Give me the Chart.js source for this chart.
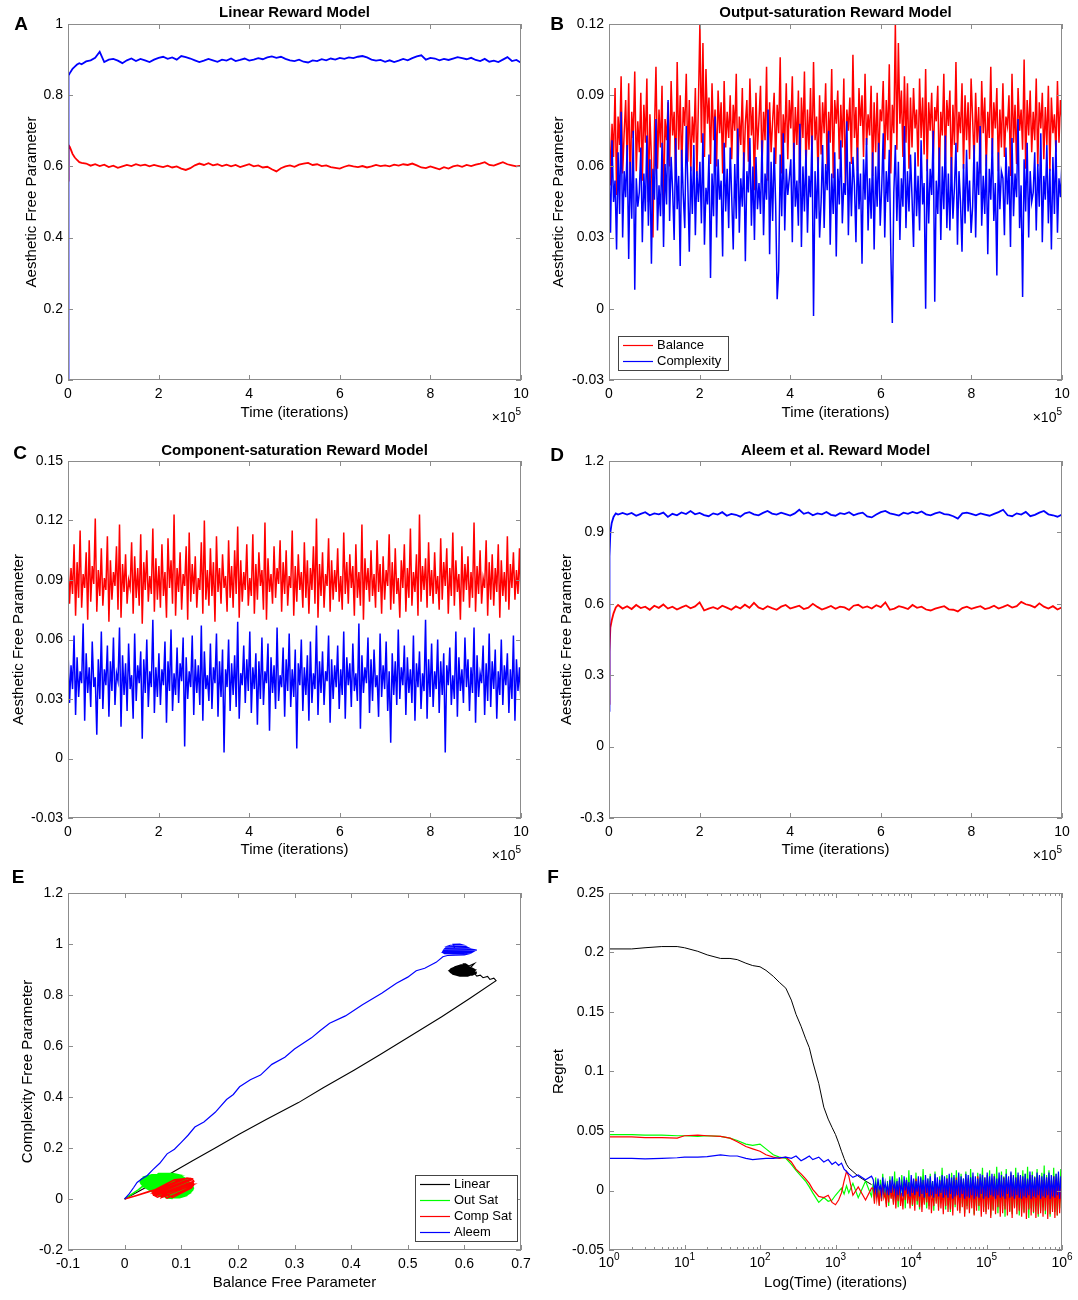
<!DOCTYPE html>
<html>
<head>
<meta charset="utf-8">
<script src="https://cdn.jsdelivr.net/npm/chart.js@4.4.1/dist/chart.umd.min.js"></script>
<style>
  html, body { margin: 0; padding: 0; background: #fff; }
  #figure { position: relative; width: 1078px; height: 1300px; overflow: hidden; }
  #figure canvas { position: absolute; }
</style>
</head>
<body>
<div id="figure">
  <canvas id="panelA" width="540" height="430" style="left:0px;top:0px"></canvas>
  <canvas id="panelB" width="538" height="430" style="left:540px;top:0px"></canvas>
  <canvas id="panelC" width="540" height="440" style="left:0px;top:430px"></canvas>
  <canvas id="panelD" width="538" height="440" style="left:540px;top:430px"></canvas>
  <canvas id="panelE" width="540" height="440" style="left:0px;top:860px"></canvas>
  <canvas id="panelF" width="538" height="440" style="left:540px;top:860px"></canvas>
</div>
<script>
const FONT = '"Liberation Sans", Arial, Helvetica, sans-serif'

Chart.defaults.font.family = FONT
Chart.defaults.font.size = 14
Chart.defaults.color = "#000"

const RED = "#ff0000"
const BLUE = "#0000ff"
const GREEN = "#00ff00"
const BLACK = "#000000"
const AXIS_GRAY = "#8c8c8c"
const TICK_LEN = 5

// ---- tick values / labels ----
const TIME_TICKS = [0, 2, 4, 6, 8, 10]
const A_YTICKS = [0, 0.2, 0.4, 0.6, 0.8, 1]
const B_YTICKS = [-0.03, 0, 0.03, 0.06, 0.09, 0.12]
const C_YTICKS = [-0.03, 0, 0.03, 0.06, 0.09, 0.12, 0.15]
const D_YTICKS = [-0.3, 0, 0.3, 0.6, 0.9, 1.2]
const E_XTICKS = [-0.1, 0, 0.1, 0.2, 0.3, 0.4, 0.5, 0.6, 0.7]
const E_YTICKS = [-0.2, 0, 0.2, 0.4, 0.6, 0.8, 1, 1.2]
const F_XTICKS = [1, 10, 100, 1000, 10000, 100000, 1000000]
const F_XEXPONENTS = ["0", "1", "2", "3", "4", "5", "6"]
const F_YTICKS = [-0.05, 0, 0.05, 0.1, 0.15, 0.2, 0.25]

// ---- A: Linear reward model (x in units of 1e5 iterations) ----
const A_T_EARLY = [0, 0.003, 0.01, 0.02, 0.04, 0.07, 0.1, 0.15, 0.2, 0.25, 0.3]
const A_BLUE_EARLY = [0.0, 0.70, 0.84, 0.855, 0.862, 0.868, 0.874, 0.88, 0.886, 0.89, 0.887]
const A_RED_EARLY = [0.56, 0.62, 0.65, 0.66, 0.655, 0.645, 0.635, 0.625, 0.618, 0.612, 0.61]
// sampled every 0.1 from 0.4 to 10
const A_BLUE = [
  0.895, 0.898, 0.905, 0.922, 0.893, 0.900, 0.902,
  0.897, 0.890, 0.898, 0.903, 0.896, 0.902, 0.898, 0.893, 0.900, 0.905,
  0.908, 0.902, 0.906, 0.900, 0.910, 0.907, 0.903, 0.898, 0.893, 0.897,
  0.902, 0.898, 0.894, 0.900, 0.897, 0.903, 0.896, 0.899, 0.903, 0.897,
  0.900, 0.904, 0.901, 0.906, 0.909, 0.905, 0.908, 0.902, 0.898, 0.896,
  0.900, 0.894, 0.892, 0.898, 0.896, 0.901, 0.898, 0.903, 0.900, 0.905,
  0.902, 0.906, 0.904, 0.908, 0.910, 0.906, 0.900, 0.897, 0.899, 0.894,
  0.898, 0.893, 0.897, 0.902, 0.898, 0.904, 0.909, 0.912, 0.900, 0.905,
  0.903, 0.898, 0.902, 0.899, 0.903, 0.907, 0.904, 0.901, 0.905, 0.899,
  0.896, 0.902, 0.894, 0.897, 0.893, 0.900, 0.907, 0.896, 0.899, 0.891,
]
const A_RED = [
  0.608, 0.602, 0.606, 0.601, 0.605, 0.598, 0.602,
  0.596, 0.600, 0.604, 0.601, 0.606, 0.602, 0.605, 0.600, 0.604, 0.601,
  0.598, 0.602, 0.597, 0.600, 0.594, 0.590, 0.595, 0.603, 0.608, 0.604,
  0.609, 0.603, 0.606, 0.601, 0.605, 0.600, 0.604, 0.598, 0.602, 0.606,
  0.600, 0.603, 0.597, 0.599, 0.592, 0.586, 0.595, 0.600, 0.603, 0.599,
  0.605, 0.608, 0.610, 0.604, 0.606, 0.601, 0.603, 0.598, 0.596, 0.594,
  0.599, 0.603, 0.600, 0.598, 0.601, 0.597, 0.600, 0.604, 0.601, 0.603,
  0.600, 0.605, 0.602, 0.606, 0.604, 0.608, 0.603, 0.597, 0.595, 0.600,
  0.596, 0.592, 0.598, 0.594, 0.600, 0.603, 0.599, 0.604, 0.601, 0.605,
  0.608, 0.612, 0.604, 0.602, 0.607, 0.612, 0.606, 0.603, 0.600, 0.602,
]

// ---- B: Output-saturation reward model (300 samples over 0..10) ----
const B_BALANCE = [
  0.085, 0.052, 0.078, 0.064, 0.093, 0.048, 0.081, 0.069, 0.098, 0.057, 0.074, 0.088, 0.061, 0.095, 0.050, 0.083, 0.072, 0.100, 0.058, 0.079,
  0.066, 0.091, 0.054, 0.086, 0.070, 0.097, 0.045, 0.082, 0.063, 0.030, 0.075, 0.102, 0.059, 0.084, 0.068, 0.094, 0.040, 0.080, 0.071, 0.087,
  0.060, 0.096, 0.073, 0.083, 0.055, 0.104, 0.067, 0.090, 0.058, 0.085, 0.077, 0.099, 0.062, 0.088, 0.058, 0.081, 0.070, 0.093, 0.056, 0.086,
  0.120, 0.070, 0.112, 0.064, 0.101, 0.078, 0.089, 0.061, 0.095, 0.071, 0.084, 0.060, 0.092, 0.074, 0.087, 0.057, 0.096, 0.068, 0.083, 0.072,
  0.090, 0.063, 0.086, 0.075, 0.099, 0.055, 0.081, 0.069, 0.093, 0.058, 0.078, 0.088, 0.062, 0.097, 0.073, 0.085, 0.050, 0.091, 0.067, 0.080,
  0.094, 0.059, 0.083, 0.071, 0.102, 0.054, 0.087, 0.066, 0.079, 0.091, 0.061, 0.086, 0.074, 0.106, 0.057, 0.082, 0.070, 0.095, 0.063, 0.088,
  0.076, 0.098, 0.060, 0.085, 0.069, 0.092, 0.053, 0.089, 0.072, 0.100, 0.058, 0.084, 0.067, 0.093, 0.062, 0.104, 0.071, 0.081, 0.056, 0.090,
  0.065, 0.087, 0.074, 0.095, 0.059, 0.083, 0.070, 0.101, 0.055, 0.088, 0.078, 0.092, 0.063, 0.086, 0.068, 0.097, 0.052, 0.084, 0.075, 0.089,
  0.061, 0.107, 0.072, 0.085, 0.058, 0.093, 0.077, 0.090, 0.064, 0.099, 0.069, 0.082, 0.073, 0.094, 0.056, 0.087, 0.066, 0.091, 0.060, 0.084,
  0.079, 0.096, 0.063, 0.088, 0.071, 0.103, 0.057, 0.086, 0.074, 0.120, 0.067, 0.112, 0.078, 0.092, 0.064, 0.098, 0.070, 0.095, 0.059, 0.089,
  0.068, 0.093, 0.076, 0.084, 0.060, 0.097, 0.072, 0.089, 0.065, 0.101, 0.058, 0.087, 0.075, 0.091, 0.062, 0.085, 0.079, 0.094, 0.055, 0.083,
  0.073, 0.099, 0.061, 0.088, 0.077, 0.092, 0.054, 0.086, 0.069, 0.104, 0.066, 0.083, 0.074, 0.095, 0.059, 0.090, 0.071, 0.087, 0.063, 0.097,
  0.080, 0.062, 0.091, 0.070, 0.085, 0.057, 0.096, 0.074, 0.089, 0.060, 0.083, 0.072, 0.102, 0.065, 0.087, 0.076, 0.093, 0.058, 0.084, 0.068,
  0.095, 0.064, 0.081, 0.077, 0.090, 0.056, 0.099, 0.070, 0.086, 0.061, 0.093, 0.075, 0.084, 0.067, 0.105, 0.059, 0.088, 0.073, 0.092, 0.066,
  0.083, 0.071, 0.097, 0.060, 0.087, 0.076, 0.091, 0.063, 0.085, 0.069, 0.094, 0.058, 0.089, 0.074, 0.082, 0.066, 0.096, 0.070, 0.088, 0.079,
]
const B_COMPLEXITY = [
  0.060, 0.032, 0.071, 0.045, 0.054, 0.025, 0.066, 0.040, 0.083, 0.030, 0.058, 0.047, 0.069, 0.021, 0.062, 0.038, 0.075, 0.008, 0.055, 0.043,
  0.049, 0.068, 0.028, 0.057, 0.041, 0.073, 0.035, 0.063, 0.019, 0.059, 0.046, 0.080, 0.033, 0.052, 0.039, 0.070, 0.026, 0.061, 0.044, 0.088,
  0.037, 0.064, 0.050, 0.029, 0.072, 0.042, 0.056, 0.018, 0.067, 0.048, 0.034, 0.077, 0.053, 0.024, 0.060, 0.040, 0.069, 0.031, 0.058, 0.045,
  0.062, 0.036, 0.074, 0.027, 0.051, 0.044, 0.065, 0.013, 0.057, 0.039, 0.081, 0.030, 0.063, 0.046, 0.054, 0.022, 0.070, 0.041, 0.059, 0.034,
  0.068, 0.047, 0.025, 0.061, 0.038, 0.076, 0.032, 0.055, 0.043, 0.066, 0.020, 0.058, 0.049, 0.072, 0.035, 0.060, 0.029, 0.064, 0.042, 0.053,
  0.040, 0.071, 0.031, 0.057, 0.046, 0.084, 0.023, 0.062, 0.037, 0.068, 0.044, 0.004, 0.016, 0.065, 0.039, 0.074, 0.033, 0.059, 0.048, 0.055,
  0.063, 0.028, 0.070, 0.043, 0.054, 0.035, 0.078, 0.026, 0.060, 0.041, 0.067, 0.032, 0.056, 0.047, 0.073, -0.003, 0.058, 0.038, 0.064, 0.030,
  0.045, 0.069, 0.034, 0.061, 0.050, 0.075, 0.027, 0.057, 0.040, 0.066, 0.022, 0.059, 0.044, 0.071, 0.036, 0.053, 0.048, 0.079, 0.031, 0.062,
  0.039, 0.064, 0.052, 0.028, 0.068, 0.042, 0.057, 0.019, 0.063, 0.046, 0.072, 0.033, 0.055, 0.038, 0.066, 0.025, 0.060, 0.043, 0.070, 0.035,
  0.051, 0.074, 0.030, 0.058, 0.045, 0.067, 0.024, -0.006, 0.049, 0.069, 0.037, 0.062, 0.029, 0.055, 0.043, 0.077, 0.034, 0.058, 0.041, 0.065,
  0.047, 0.026, 0.066, 0.039, 0.056, 0.033, 0.071, 0.044, 0.053, 0.000, 0.063, 0.036, 0.059, 0.048, 0.075, 0.003, 0.054, 0.040, 0.068, 0.029,
  0.060, 0.042, 0.073, 0.034, 0.057, 0.033, 0.064, 0.038, 0.051, 0.070, 0.027, 0.058, 0.045, 0.024, 0.061, 0.036, 0.067, 0.041, 0.054, 0.032,
  0.043, 0.069, 0.030, 0.062, 0.048, 0.077, 0.035, 0.056, 0.040, 0.065, 0.023, 0.059, 0.046, 0.072, 0.037, 0.053, 0.014, 0.066, 0.042, 0.058,
  0.055, 0.031, 0.068, 0.044, 0.060, 0.026, 0.072, 0.039, 0.057, 0.047, 0.080, 0.034, 0.052, 0.005, 0.063, 0.041, 0.070, 0.030, 0.058, 0.045,
  0.049, 0.066, 0.033, 0.061, 0.043, 0.074, 0.028, 0.056, 0.046, 0.069, 0.036, 0.059, 0.025, 0.064, 0.040, 0.071, 0.032, 0.055, 0.047, 0.062,
]

// ---- C: Component-saturation reward model (300 samples over 0..10) ----
const C_BALANCE = [
  0.101, 0.078, 0.096, 0.083, 0.108, 0.072, 0.099, 0.081, 0.115, 0.076, 0.093, 0.086, 0.104, 0.070, 0.110, 0.079, 0.097, 0.088, 0.121, 0.074,
  0.095, 0.082, 0.106, 0.077, 0.091, 0.085, 0.112, 0.069, 0.100, 0.080, 0.094, 0.087, 0.107, 0.075, 0.118, 0.071, 0.098, 0.084, 0.103, 0.078,
  0.090, 0.086, 0.109, 0.073, 0.102, 0.081, 0.096, 0.077, 0.113, 0.068, 0.099, 0.085, 0.105, 0.079, 0.092, 0.083, 0.116, 0.074, 0.101, 0.080,
  0.097, 0.076, 0.108, 0.082, 0.094, 0.071, 0.111, 0.086, 0.100, 0.078, 0.123, 0.072, 0.096, 0.084, 0.104, 0.075, 0.093, 0.087, 0.107, 0.070,
  0.114, 0.079, 0.098, 0.083, 0.102, 0.076, 0.091, 0.085, 0.109, 0.073, 0.120, 0.080, 0.095, 0.077, 0.106, 0.082, 0.099, 0.069, 0.112, 0.084,
  0.096, 0.078, 0.103, 0.086, 0.092, 0.074, 0.110, 0.081, 0.097, 0.076, 0.105, 0.083, 0.117, 0.071, 0.100, 0.079, 0.094, 0.085, 0.108, 0.077,
  0.091, 0.082, 0.113, 0.073, 0.098, 0.080, 0.104, 0.087, 0.095, 0.075, 0.119, 0.070, 0.101, 0.084, 0.093, 0.078, 0.107, 0.081, 0.096, 0.088,
  0.110, 0.074, 0.099, 0.083, 0.105, 0.077, 0.092, 0.086, 0.115, 0.072, 0.097, 0.079, 0.103, 0.085, 0.094, 0.076, 0.109, 0.081, 0.100, 0.073,
  0.096, 0.085, 0.107, 0.078, 0.121, 0.071, 0.098, 0.082, 0.104, 0.076, 0.093, 0.087, 0.111, 0.074, 0.100, 0.080, 0.095, 0.084, 0.106, 0.079,
  0.092, 0.075, 0.114, 0.083, 0.099, 0.078, 0.103, 0.086, 0.097, 0.072, 0.108, 0.081, 0.094, 0.077, 0.118, 0.070, 0.101, 0.085, 0.096, 0.079,
  0.105, 0.082, 0.093, 0.076, 0.110, 0.084, 0.098, 0.073, 0.102, 0.080, 0.095, 0.087, 0.113, 0.075, 0.099, 0.078, 0.106, 0.083, 0.091, 0.071,
  0.100, 0.086, 0.108, 0.074, 0.096, 0.081, 0.116, 0.077, 0.094, 0.084, 0.103, 0.072, 0.123, 0.079, 0.097, 0.085, 0.101, 0.076, 0.109, 0.082,
  0.095, 0.078, 0.104, 0.083, 0.092, 0.075, 0.111, 0.080, 0.099, 0.087, 0.106, 0.073, 0.096, 0.082, 0.114, 0.077, 0.100, 0.084, 0.093, 0.070,
  0.107, 0.079, 0.098, 0.085, 0.102, 0.076, 0.094, 0.081, 0.119, 0.074, 0.097, 0.083, 0.105, 0.078, 0.091, 0.086, 0.110, 0.072, 0.099, 0.080,
  0.103, 0.077, 0.096, 0.084, 0.108, 0.071, 0.100, 0.082, 0.094, 0.079, 0.112, 0.075, 0.098, 0.086, 0.104, 0.080, 0.095, 0.083, 0.106, 0.078,
]
const C_COMPLEXITY = [
  0.055, 0.028, 0.047, 0.035, 0.062, 0.022, 0.051, 0.031, 0.044, 0.038, 0.068, 0.019, 0.053, 0.033, 0.046, 0.026, 0.059, 0.036, 0.041, 0.012,
  0.050, 0.030, 0.064, 0.025, 0.045, 0.037, 0.057, 0.021, 0.049, 0.034, 0.061, 0.027, 0.043, 0.039, 0.066, 0.016, 0.052, 0.032, 0.048, 0.024,
  0.058, 0.035, 0.042, 0.020, 0.063, 0.029, 0.047, 0.038, 0.054, 0.010, 0.050, 0.033, 0.060, 0.026, 0.044, 0.036, 0.070, 0.023, 0.046, 0.031,
  0.053, 0.027, 0.045, 0.037, 0.059, 0.018, 0.049, 0.034, 0.065, 0.024, 0.043, 0.032, 0.056, 0.028, 0.048, 0.039, 0.061, 0.006, 0.051, 0.030,
  0.044, 0.036, 0.062, 0.022, 0.050, 0.033, 0.047, 0.027, 0.067, 0.019, 0.054, 0.035, 0.042, 0.029, 0.058, 0.025, 0.046, 0.038, 0.063, 0.021,
  0.049, 0.031, 0.055, 0.003, 0.045, 0.036, 0.060, 0.024, 0.048, 0.032, 0.052, 0.026, 0.069, 0.020, 0.043, 0.037, 0.057, 0.028, 0.050, 0.034,
  0.064, 0.023, 0.046, 0.035, 0.053, 0.017, 0.049, 0.030, 0.061, 0.027, 0.044, 0.038, 0.058, 0.014, 0.051, 0.033, 0.047, 0.025, 0.066, 0.029,
  0.042, 0.036, 0.056, 0.021, 0.050, 0.034, 0.063, 0.026, 0.045, 0.031, 0.055, 0.005, 0.048, 0.037, 0.060, 0.024, 0.046, 0.032, 0.052, 0.019,
  0.059, 0.028, 0.043, 0.035, 0.067, 0.022, 0.049, 0.033, 0.054, 0.027, 0.044, 0.039, 0.062, 0.018, 0.050, 0.030, 0.047, 0.036, 0.057, 0.025,
  0.045, 0.032, 0.064, 0.020, 0.051, 0.037, 0.048, 0.026, 0.058, 0.034, 0.043, 0.029, 0.068, 0.015, 0.052, 0.033, 0.046, 0.038, 0.061, 0.023,
  0.050, 0.029, 0.055, 0.036, 0.042, 0.021, 0.063, 0.031, 0.047, 0.035, 0.059, 0.024, 0.044, 0.008, 0.053, 0.032, 0.049, 0.027, 0.065, 0.030,
  0.046, 0.037, 0.057, 0.022, 0.051, 0.033, 0.045, 0.028, 0.062, 0.019, 0.048, 0.036, 0.054, 0.025, 0.043, 0.034, 0.070, 0.020, 0.050, 0.031,
  0.058, 0.026, 0.044, 0.035, 0.060, 0.023, 0.049, 0.032, 0.053, 0.003, 0.047, 0.037, 0.056, 0.027, 0.042, 0.030, 0.064, 0.021, 0.051, 0.034,
  0.045, 0.028, 0.061, 0.036, 0.050, 0.024, 0.046, 0.033, 0.066, 0.018, 0.052, 0.031, 0.043, 0.038, 0.057, 0.022, 0.048, 0.029, 0.063, 0.026,
  0.049, 0.035, 0.055, 0.020, 0.044, 0.032, 0.060, 0.027, 0.047, 0.037, 0.053, 0.023, 0.045, 0.030, 0.062, 0.019, 0.050, 0.034, 0.046, 0.028,
]

// ---- D: Aleem et al. reward model ----
const D_T_EARLY = [0, 0.01, 0.03, 0.06, 0.1, 0.15, 0.2, 0.3]
const D_BLUE_EARLY = [0.15, 0.80, 0.90, 0.94, 0.965, 0.98, 0.975, 0.982]
const D_RED_EARLY = [0.18, 0.40, 0.50, 0.53, 0.56, 0.585, 0.595, 0.58]
// sampled every 0.1 from 0.4 to 10
const D_BLUE = [
  0.975, 0.982, 0.970, 0.978, 0.985, 0.972, 0.980,
  0.976, 0.983, 0.965, 0.978, 0.972, 0.984, 0.977, 0.990, 0.976, 0.982,
  0.973, 0.968, 0.980, 0.975, 0.985, 0.970, 0.978, 0.974, 0.966, 0.980,
  0.985, 0.976, 0.972, 0.982, 0.990, 0.979, 0.975, 0.983, 0.977, 0.971,
  0.980, 0.995, 0.978, 0.984, 0.972, 0.980, 0.976, 0.986, 0.974, 0.970,
  0.981, 0.977, 0.985, 0.972, 0.979, 0.983, 0.967, 0.963, 0.975, 0.985,
  0.990, 0.980, 0.976, 0.971, 0.983, 0.978, 0.986, 0.980, 0.988, 0.976,
  0.972, 0.980, 0.985, 0.977, 0.975, 0.968, 0.958, 0.980, 0.983, 0.978,
  0.972, 0.980, 0.975, 0.970, 0.978, 0.985, 0.995, 0.972, 0.968, 0.980,
  0.975, 0.986, 0.968, 0.974, 0.983, 0.990, 0.976, 0.972, 0.966, 0.975,
]
const D_RED = [
  0.590, 0.578, 0.595, 0.582, 0.588, 0.575, 0.592,
  0.583, 0.597, 0.580, 0.588, 0.576, 0.585, 0.593, 0.581, 0.589, 0.606,
  0.572, 0.580, 0.586, 0.578, 0.592, 0.584, 0.575, 0.589, 0.580, 0.596,
  0.583, 0.604, 0.585, 0.577, 0.590, 0.582, 0.575, 0.588, 0.595, 0.580,
  0.586, 0.592, 0.578, 0.584, 0.600, 0.587, 0.576, 0.583, 0.591, 0.579,
  0.588, 0.585, 0.574, 0.592, 0.596, 0.583, 0.589, 0.580, 0.594, 0.586,
  0.606, 0.575, 0.580, 0.590, 0.585, 0.578, 0.595, 0.583, 0.588, 0.576,
  0.572, 0.580, 0.585, 0.590, 0.577, 0.575, 0.568, 0.582, 0.588, 0.579,
  0.585, 0.590, 0.578, 0.583, 0.592, 0.580, 0.587, 0.595, 0.584, 0.590,
  0.608, 0.598, 0.593, 0.585, 0.602, 0.588, 0.580, 0.590, 0.576, 0.585,
]

// ---- E: trajectories in (balance, complexity) space ----
const E_LINEAR = [
  [0, 0], [0.03, 0.036], [0.06, 0.072], [0.087, 0.108], [0.12, 0.15], [0.16, 0.2], [0.203, 0.255],
  [0.25, 0.312], [0.307, 0.378], [0.35, 0.435], [0.405, 0.505], [0.45, 0.565], [0.509, 0.645],
  [0.56, 0.715], [0.61, 0.787], [0.656, 0.856], [0.652, 0.866], [0.645, 0.861], [0.641, 0.873],
  [0.633, 0.868], [0.628, 0.878], [0.622, 0.874], [0.618, 0.884],
  [0.606, 0.874], [0.592, 0.874], [0.585, 0.878], [0.614, 0.878], [0.618, 0.882], [0.58, 0.882],
  [0.577, 0.886], [0.622, 0.886], [0.621, 0.89], [0.575, 0.89], [0.573, 0.894], [0.618, 0.894],
  [0.62, 0.898], [0.574, 0.898], [0.576, 0.902], [0.617, 0.902], [0.614, 0.906], [0.579, 0.906],
  [0.583, 0.91], [0.612, 0.91], [0.618, 0.924], [0.608, 0.914], [0.588, 0.914], [0.594, 0.918],
  [0.605, 0.918], [0.602, 0.922], [0.598, 0.922], [0.6, 0.896],
]
const E_OUTSAT = [
  [0, 0], [0.012, 0.018], [0.024, 0.036], [0.032, 0.05],
  [0.06, 0.1], [0.085, 0.1], [0.095, 0.095], [0.048, 0.095], [0.04, 0.09], [0.1, 0.09],
  [0.104, 0.085], [0.034, 0.085], [0.031, 0.08], [0.108, 0.08], [0.11, 0.075], [0.029, 0.075],
  [0.028, 0.07], [0.112, 0.07], [0.114, 0.065], [0.028, 0.065], [0.029, 0.06], [0.116, 0.06],
  [0.118, 0.055], [0.031, 0.055], [0.033, 0.05], [0.12, 0.05], [0.121, 0.045], [0.036, 0.045],
  [0.04, 0.04], [0.121, 0.04], [0.12, 0.035], [0.044, 0.035], [0.048, 0.03], [0.118, 0.03],
  [0.116, 0.025], [0.052, 0.025], [0.056, 0.02], [0.113, 0.02], [0.109, 0.015], [0.06, 0.015],
  [0.065, 0.01], [0.104, 0.01], [0.097, 0.005], [0.072, 0.005], [0.085, 0.002],
]
const E_COMPSAT = [
  [0, 0], [0.02, 0.013], [0.04, 0.027], [0.06, 0.04], [0.075, 0.05],
  [0.065, 0.006], [0.122, 0.058], [0.121, 0.064], [0.058, 0.007], [0.054, 0.012], [0.122, 0.07],
  [0.12, 0.076], [0.051, 0.016], [0.05, 0.021], [0.117, 0.08], [0.11, 0.082], [0.05, 0.027],
  [0.052, 0.032], [0.1, 0.078], [0.088, 0.075], [0.055, 0.038], [0.075, 0.004], [0.12, 0.05],
  [0.118, 0.044], [0.085, 0.006], [0.07, 0.02], [0.11, 0.06], [0.09, 0.03],
]
const E_ALEEM = [
  [0, 0], [0.008, 0.02], [0.016, 0.045], [0.022, 0.065], [0.03, 0.078], [0.04, 0.092], [0.05, 0.115],
  [0.062, 0.14], [0.075, 0.177], [0.088, 0.195], [0.1, 0.222], [0.112, 0.25], [0.124, 0.282],
  [0.14, 0.302], [0.16, 0.34], [0.18, 0.39], [0.192, 0.41], [0.203, 0.44], [0.222, 0.468],
  [0.24, 0.486], [0.26, 0.528], [0.283, 0.556], [0.3, 0.588], [0.33, 0.632], [0.345, 0.66],
  [0.362, 0.689], [0.39, 0.718], [0.42, 0.762], [0.454, 0.807], [0.48, 0.846], [0.5, 0.87],
  [0.515, 0.895], [0.53, 0.905], [0.55, 0.928], [0.562, 0.95],
  [0.57, 0.955], [0.6, 0.957], [0.605, 0.96], [0.565, 0.962], [0.562, 0.966], [0.612, 0.965],
  [0.616, 0.97], [0.562, 0.971], [0.563, 0.975], [0.622, 0.976], [0.612, 0.98], [0.565, 0.981],
  [0.567, 0.985], [0.607, 0.986], [0.603, 0.99], [0.57, 0.991], [0.575, 0.995], [0.598, 0.996],
  [0.592, 1.0], [0.58, 0.999], [0.585, 0.975],
]

// ---- F: regret against iterations (log time) ----
const F_T = [
  1, 2, 3, 5, 8, 10, 15, 20, 30, 40, 50, 65, 80, 100, 120, 150, 180, 220, 260, 300,
  350, 400, 450, 500, 600, 700, 800, 900, 1000, 1100, 1200, 1300, 1400, 1500, 1700, 2000, 2500, 3000,
]
const F_LINEAR = [
  0.203, 0.203, 0.204, 0.205, 0.205, 0.204, 0.201, 0.198, 0.195, 0.195,
  0.194, 0.191, 0.189, 0.188, 0.185, 0.18, 0.175, 0.17, 0.16, 0.148,
  0.138, 0.128, 0.12, 0.108, 0.09, 0.07, 0.06, 0.053, 0.047, 0.04,
  0.033, 0.027, 0.022, 0.019, 0.016, 0.012, 0.008, 0.005,
]
const F_OUTSAT = [
  0.047, 0.047, 0.0465, 0.0465, 0.046, 0.046, 0.0455, 0.046, 0.0455, 0.044,
  0.042, 0.039, 0.038, 0.039, 0.035, 0.03, 0.028, 0.027, 0.022, 0.017,
  0.012, 0.008, 0.003, -0.002, -0.01, -0.006, -0.009, -0.008, -0.004, -0.001,
  0.002, -0.003, 0.004, -0.002, 0.006, -0.006, 0.008, -0.005,
]
const F_COMPSAT = [
  0.045, 0.045, 0.0445, 0.0445, 0.044, 0.046, 0.0465, 0.046, 0.0455, 0.044,
  0.041, 0.037, 0.035, 0.033, 0.03, 0.028, 0.027, 0.028, 0.024, 0.018,
  0.014, 0.01, 0.006, 0.001, -0.005, -0.006, -0.004, -0.01, -0.012, -0.008,
  -0.002, 0.008, 0.016, 0.012, -0.004, 0.003, -0.008, 0.002,
]
const F_ALEEM = [
  0.027, 0.027, 0.0265, 0.027, 0.0275, 0.028, 0.028, 0.0285, 0.03, 0.029,
  0.029, 0.027, 0.026, 0.0265, 0.027, 0.027, 0.0275, 0.028, 0.027, 0.029,
  0.025, 0.027, 0.029, 0.026, 0.028, 0.024, 0.026, 0.022, 0.024, 0.021,
  0.023, 0.018, 0.016, 0.014, 0.011, 0.013, 0.009, 0.012,
]
// noisy tail, 160 samples log-spaced from 10^3.5 to 10^6
const F_OUTSAT_TAIL = [
  0.006, -0.009, 0.011, -0.005, 0.003, -0.012, 0.009, -0.007, 0.014, -0.004, 0.002, -0.011, 0.008, -0.013, 0.012, -0.006, 0.004, -0.010, 0.016, -0.008,
  0.010, -0.014, 0.005, -0.009, 0.013, -0.003, 0.007, -0.015, 0.011, -0.008, 0.017, -0.011, 0.003, -0.013, 0.009, -0.006, 0.015, -0.012, 0.006, -0.016,
  0.012, -0.007, 0.018, -0.010, 0.004, -0.015, 0.010, -0.013, 0.014, -0.005, 0.008, -0.017, 0.016, -0.009, 0.006, -0.014, 0.012, -0.011, 0.019, -0.008,
  0.009, -0.016, 0.013, -0.012, 0.007, -0.018, 0.015, -0.009, 0.011, -0.014, 0.017, -0.006, 0.005, -0.017, 0.014, -0.011, 0.010, -0.019, 0.016, -0.013,
  0.008, -0.015, 0.018, -0.010, 0.012, -0.020, 0.006, -0.013, 0.015, -0.017, 0.011, -0.008, 0.019, -0.014, 0.009, -0.018, 0.013, -0.012, 0.017, -0.021,
  0.010, -0.016, 0.014, -0.011, 0.020, -0.019, 0.008, -0.015, 0.016, -0.013, 0.012, -0.022, 0.018, -0.010, 0.007, -0.017, 0.015, -0.020, 0.011, -0.014,
  0.019, -0.012, 0.013, -0.021, 0.009, -0.016, 0.017, -0.018, 0.014, -0.011, 0.020, -0.023, 0.010, -0.015, 0.016, -0.019, 0.012, -0.013, 0.018, -0.022,
  0.011, -0.017, 0.015, -0.014, 0.021, -0.020, 0.013, -0.012, 0.017, -0.022, 0.009, -0.016, 0.019, -0.018, 0.014, -0.021, 0.012, -0.015, 0.018, -0.020,
]
const F_COMPSAT_TAIL = [
  0.002, -0.011, 0.005, -0.008, 0.000, -0.013, 0.004, -0.009, 0.007, -0.006, -0.002, -0.014, 0.004, -0.010, 0.008, -0.007, 0.001, -0.012, 0.006, -0.015,
  0.003, -0.009, 0.008, -0.013, -0.002, -0.016, 0.005, -0.008, 0.009, -0.011, 0.001, -0.015, 0.006, -0.012, 0.003, -0.017, 0.010, -0.009, 0.004, -0.014,
  0.007, -0.018, 0.002, -0.012, 0.009, -0.010, 0.004, -0.016, 0.008, -0.019, 0.000, -0.013, 0.010, -0.011, 0.005, -0.017, 0.008, -0.015, 0.003, -0.020,
  0.006, -0.013, 0.010, -0.018, 0.003, -0.016, 0.008, -0.021, 0.006, -0.012, 0.011, -0.017, 0.004, -0.019, 0.009, -0.014, 0.007, -0.022, 0.005, -0.016,
  0.010, -0.019, 0.006, -0.015, 0.009, -0.021, 0.007, -0.017, 0.012, -0.013, 0.004, -0.022, 0.008, -0.018, 0.011, -0.020, 0.006, -0.016, 0.009, -0.023,
  0.007, -0.017, 0.012, -0.020, 0.005, -0.014, 0.010, -0.022, 0.008, -0.019, 0.011, -0.016, 0.006, -0.021, 0.009, -0.018, 0.013, -0.023, 0.007, -0.015,
  0.011, -0.020, 0.008, -0.017, 0.012, -0.022, 0.006, -0.019, 0.010, -0.024, 0.009, -0.016, 0.013, -0.021, 0.007, -0.018, 0.011, -0.023, 0.008, -0.020,
  0.012, -0.019, 0.009, -0.022, 0.007, -0.017, 0.011, -0.024, 0.010, -0.020, 0.008, -0.018, 0.012, -0.023, 0.009, -0.021, 0.011, -0.019, 0.008, -0.022,
]
const F_ALEEM_TAIL = [
  0.009, 0.000, 0.006, -0.002, 0.010, 0.001, 0.004, -0.003, 0.011, 0.000, 0.007, -0.001, 0.005, -0.004, 0.009, -0.002, 0.012, 0.001, 0.006, -0.003,
  0.008, -0.004, 0.011, -0.001, 0.006, -0.005, 0.012, 0.000, 0.009, -0.003, 0.007, -0.005, 0.013, -0.002, 0.010, -0.004, 0.008, -0.001, 0.012, -0.005,
  0.011, -0.003, 0.009, -0.006, 0.013, -0.002, 0.010, -0.005, 0.012, -0.004, 0.008, -0.006, 0.014, -0.003, 0.011, -0.005, 0.009, -0.002, 0.013, -0.006,
  0.012, -0.004, 0.010, -0.006, 0.014, -0.003, 0.011, -0.007, 0.013, -0.005, 0.009, -0.004, 0.015, -0.006, 0.012, -0.003, 0.010, -0.007, 0.014, -0.005,
  0.013, -0.006, 0.011, -0.004, 0.015, -0.007, 0.012, -0.005, 0.010, -0.006, 0.014, -0.003, 0.013, -0.007, 0.011, -0.005, 0.015, -0.006, 0.012, -0.004,
  0.014, -0.005, 0.012, -0.007, 0.010, -0.004, 0.015, -0.006, 0.013, -0.005, 0.011, -0.007, 0.014, -0.003, 0.012, -0.006, 0.016, -0.005, 0.013, -0.007,
  0.011, -0.004, 0.015, -0.006, 0.013, -0.007, 0.012, -0.005, 0.014, -0.006, 0.010, -0.004, 0.016, -0.007, 0.013, -0.005, 0.011, -0.006, 0.015, -0.004,
  0.013, -0.007, 0.012, -0.005, 0.014, -0.006, 0.011, -0.004, 0.015, -0.007, 0.013, -0.005, 0.012, -0.006, 0.014, -0.004, 0.016, -0.007, 0.012, -0.005,
]

// ---- helpers ----
const evenGrid = (from, to, count) =>
  Array.from({ length: count }, (_, i) => from + (i * (to - from)) / (count - 1))

const points = (xs, ys) => ys.map((y, i) => ({ x: xs[i], y: y }))
const pairs = (list) => list.map(([x, y]) => ({ x: x, y: y }))

const line = (label, color, data, width) => ({
  label: label,
  data: data,
  borderColor: color,
  backgroundColor: color,
  borderWidth: width,
  pointRadius: 0,
  pointHoverRadius: 0,
  tension: 0,
  fill: false,
})

const A_T = A_T_EARLY.concat(evenGrid(0.4, 10, A_BLUE.length))
const D_T = D_T_EARLY.concat(evenGrid(0.4, 10, D_BLUE.length))
const NOISE_T = evenGrid(0, 10, B_BALANCE.length)
const F_TAIL_T = evenGrid(3.5, 6, F_ALEEM_TAIL.length).map((e) => Math.pow(10, e))
const F_MINOR = []
for (let k = 0; k < 6; k++) {
  for (let m = 2; m < 10; m++) F_MINOR.push(m * Math.pow(10, k))
}

// MATLAB style frame: box, inward ticks on all four sides, letter, exponent, legend
const matlabFrame = {
  id: "matlab",
  afterDatasetsDraw(chart, args, opts) {
    const { ctx } = chart
    const { left, top, right, bottom } = chart.chartArea
    const xs = chart.scales.x
    const ys = chart.scales.y
    const snap = (v) => Math.round(v) + 0.5

    ctx.save()
    ctx.strokeStyle = AXIS_GRAY
    ctx.lineWidth = 1
    ctx.beginPath()
    xs.ticks.forEach((t) => {
      const px = snap(xs.getPixelForValue(t.value))
      ctx.moveTo(px, bottom)
      ctx.lineTo(px, bottom - TICK_LEN)
      ctx.moveTo(px, top)
      ctx.lineTo(px, top + TICK_LEN)
    })
    ys.ticks.forEach((t) => {
      const py = snap(ys.getPixelForValue(t.value))
      ctx.moveTo(left, py)
      ctx.lineTo(left + TICK_LEN, py)
      ctx.moveTo(right, py)
      ctx.lineTo(right - TICK_LEN, py)
    })
    ;(opts.minorX || []).forEach((v) => {
      const px = snap(xs.getPixelForValue(v))
      ctx.moveTo(px, bottom)
      ctx.lineTo(px, bottom - 3)
      ctx.moveTo(px, top)
      ctx.lineTo(px, top + 3)
    })
    ctx.stroke()
    ctx.strokeRect(snap(left), snap(top), Math.round(right - left) - 1, Math.round(bottom - top) - 1)
    ctx.restore()
  },
  afterDraw(chart, args, opts) {
    const { ctx } = chart
    const { left, right, bottom } = chart.chartArea
    ctx.save()
    ctx.fillStyle = "#000"

    if (opts.letter) {
      ctx.font = `bold 19px ${FONT}`
      ctx.textAlign = "center"
      ctx.textBaseline = "middle"
      ctx.fillText(opts.letter.text, opts.letter.x, opts.letter.y)
    }

    if (opts.exponent) {
      ctx.textAlign = "left"
      ctx.textBaseline = "alphabetic"
      ctx.font = `10px ${FONT}`
      const supWidth = ctx.measureText(opts.exponent).width
      ctx.font = `14px ${FONT}`
      const baseWidth = ctx.measureText("×10").width
      const x0 = right - supWidth - baseWidth
      ctx.fillText("×10", x0, bottom + 42)
      ctx.font = `10px ${FONT}`
      ctx.fillText(opts.exponent, x0 + baseWidth, bottom + 35)
    }

    // power-of-ten tick labels: "10" with a raised exponent
    if (opts.powerLabels) {
      const xs = chart.scales.x
      ctx.textBaseline = "middle"
      ctx.textAlign = "left"
      xs.ticks.forEach((t, i) => {
        const exp = opts.powerLabels[i]
        ctx.font = `14px ${FONT}`
        const bw = ctx.measureText("10").width
        ctx.font = `10px ${FONT}`
        const ew = ctx.measureText(exp).width
        const x0 = xs.getPixelForValue(t.value) - (bw + ew) / 2
        ctx.font = `14px ${FONT}`
        ctx.fillText("10", x0, bottom + 13)
        ctx.font = `10px ${FONT}`
        ctx.fillText(exp, x0 + bw, bottom + 7)
      })
    }

    if (opts.legend) {
      const L = opts.legend
      const sets = chart.data.datasets
      const h = sets.length * 16 + 2
      const bx = L.anchor === "right" ? right - L.dx - L.width : left + L.dx
      const by = bottom - L.dy - h
      ctx.fillStyle = "#fff"
      ctx.fillRect(bx, by, L.width, h)
      ctx.strokeStyle = "#444"
      ctx.lineWidth = 1
      ctx.strokeRect(bx + 0.5, by + 0.5, L.width, h)
      ctx.font = `13px ${FONT}`
      ctx.textAlign = "left"
      ctx.textBaseline = "middle"
      sets.forEach((set, i) => {
        const cy = by + 9 + i * 16
        ctx.strokeStyle = set.borderColor
        ctx.lineWidth = 1.2
        ctx.beginPath()
        ctx.moveTo(bx + 5, cy + 0.5)
        ctx.lineTo(bx + 35, cy + 0.5)
        ctx.stroke()
        ctx.fillStyle = "#000"
        ctx.fillText(set.label, bx + 39, cy)
      })
    }
    ctx.restore()
  },
}

const buildPanel = (id, spec) => {
  const canvas = document.getElementById(id)
  const W = canvas.width
  const H = canvas.height
  const plot = spec.plot
  const padLeft = spec.yTitleX - 9
  const xAxisHeight = spec.xTitleY + 9 - plot.bottom
  const yAxisWidth = plot.left - padLeft

  const titleOpts = spec.title
    ? {
        display: true,
        text: spec.title,
        fullSize: false,
        font: { size: 15, weight: "bold" },
        padding: { top: spec.titleY - 9, bottom: plot.top - spec.titleY - 9 },
      }
    : { display: false }

  // later datasets are drawn on top, as in the original figure
  const datasets = spec.datasets.map((d, i, all) => Object.assign({}, d, { order: all.length - i }))

  return new Chart(canvas, {
    type: "line",
    data: { datasets: datasets },
    options: {
      responsive: false,
      animation: false,
      events: [],
      layout: {
        padding: {
          left: padLeft,
          right: W - plot.right,
          top: spec.title ? 0 : plot.top,
          bottom: H - (spec.xTitleY + 9),
        },
      },
      plugins: {
        legend: { display: false },
        tooltip: { enabled: false },
        title: titleOpts,
        matlab: {
          letter: spec.letter,
          exponent: spec.exponent,
          legend: spec.legend,
          minorX: spec.minorX,
          powerLabels: spec.powerLabels,
        },
      },
      scales: {
        x: {
          type: spec.logX ? "logarithmic" : "linear",
          min: spec.xRange[0],
          max: spec.xRange[1],
          afterFit: (scale) => {
            scale.height = xAxisHeight
          },
          afterBuildTicks: (scale) => {
            scale.ticks = spec.xTicks.map((v) => ({ value: v }))
          },
          ticks: {
            display: !spec.powerLabels,
            autoSkip: false,
            maxRotation: 0,
            minRotation: 0,
            padding: 6,
            font: { size: 14 },
            callback: (value) => String(value),
          },
          grid: { display: false, drawTicks: false },
          border: { display: false },
          title: { display: true, text: spec.xTitle, font: { size: 15 }, padding: 0 },
        },
        y: {
          type: "linear",
          min: spec.yRange[0],
          max: spec.yRange[1],
          afterFit: (scale) => {
            scale.width = yAxisWidth
          },
          afterBuildTicks: (scale) => {
            scale.ticks = spec.yTicks.map((v) => ({ value: v }))
          },
          ticks: {
            autoSkip: false,
            padding: 5,
            font: { size: 14 },
            callback: (value) => String(value),
          },
          grid: { display: false, drawTicks: false },
          border: { display: false },
          title: { display: true, text: spec.yTitle, font: { size: 15 }, padding: 0 },
        },
      },
    },
    plugins: [matlabFrame],
  })
}

buildPanel("panelA", {
  plot: { left: 68, top: 24, right: 521, bottom: 380 },
  yTitleX: 32,
  xTitleY: 413,
  title: "Linear Reward Model",
  titleY: 13,
  letter: { text: "A", x: 21, y: 25 },
  exponent: "5",
  xRange: [0, 10],
  yRange: [0, 1],
  xTicks: TIME_TICKS,
  yTicks: A_YTICKS,
  xTitle: "Time (iterations)",
  yTitle: "Aesthetic Free Parameter",
  datasets: [
    line("Balance", RED, points(A_T, A_RED_EARLY.concat(A_RED)), 1.8),
    line("Complexity", BLUE, points(A_T, A_BLUE_EARLY.concat(A_BLUE)), 1.8),
  ],
})

buildPanel("panelB", {
  plot: { left: 69, top: 24, right: 522, bottom: 380 },
  yTitleX: 19,
  xTitleY: 413,
  title: "Output-saturation Reward Model",
  titleY: 13,
  letter: { text: "B", x: 17, y: 25 },
  exponent: "5",
  xRange: [0, 10],
  yRange: [-0.03, 0.12],
  xTicks: TIME_TICKS,
  yTicks: B_YTICKS,
  xTitle: "Time (iterations)",
  yTitle: "Aesthetic Free Parameter",
  legend: { anchor: "left", dx: 9, dy: 10, width: 110 },
  datasets: [
    line("Balance", RED, points(NOISE_T, B_BALANCE), 1.5),
    line("Complexity", BLUE, points(NOISE_T, B_COMPLEXITY), 1.5),
  ],
})

buildPanel("panelC", {
  plot: { left: 68, top: 31, right: 521, bottom: 388 },
  yTitleX: 19,
  xTitleY: 420,
  title: "Component-saturation Reward Model",
  titleY: 21,
  letter: { text: "C", x: 20, y: 24 },
  exponent: "5",
  xRange: [0, 10],
  yRange: [-0.03, 0.15],
  xTicks: TIME_TICKS,
  yTicks: C_YTICKS,
  xTitle: "Time (iterations)",
  yTitle: "Aesthetic Free Parameter",
  datasets: [
    line("Balance", RED, points(NOISE_T, C_BALANCE), 1.5),
    line("Complexity", BLUE, points(NOISE_T, C_COMPLEXITY), 1.5),
  ],
})

buildPanel("panelD", {
  plot: { left: 69, top: 31, right: 522, bottom: 388 },
  yTitleX: 27,
  xTitleY: 420,
  title: "Aleem et al. Reward Model",
  titleY: 21,
  letter: { text: "D", x: 17, y: 26 },
  exponent: "5",
  xRange: [0, 10],
  yRange: [-0.3, 1.2],
  xTicks: TIME_TICKS,
  yTicks: D_YTICKS,
  xTitle: "Time (iterations)",
  yTitle: "Aesthetic Free Parameter",
  datasets: [
    line("Balance", RED, points(D_T, D_RED_EARLY.concat(D_RED)), 1.8),
    line("Complexity", BLUE, points(D_T, D_BLUE_EARLY.concat(D_BLUE)), 1.8),
  ],
})

buildPanel("panelE", {
  plot: { left: 68, top: 33, right: 521, bottom: 390 },
  yTitleX: 28,
  xTitleY: 423,
  letter: { text: "E", x: 18, y: 18 },
  xRange: [-0.1, 0.7],
  yRange: [-0.2, 1.2],
  xTicks: E_XTICKS,
  yTicks: E_YTICKS,
  xTitle: "Balance Free Parameter",
  yTitle: "Complexity Free Parameter",
  legend: { anchor: "right", dx: 4, dy: 9, width: 102 },
  datasets: [
    line("Linear", BLACK, pairs(E_LINEAR), 1.1),
    line("Out Sat", GREEN, pairs(E_OUTSAT), 1.6),
    line("Comp Sat", RED, pairs(E_COMPSAT), 1.6),
    line("Aleem", BLUE, pairs(E_ALEEM), 1.2),
  ],
})

buildPanel("panelF", {
  plot: { left: 69, top: 33, right: 522, bottom: 390 },
  yTitleX: 19,
  xTitleY: 423,
  letter: { text: "F", x: 13, y: 18 },
  logX: true,
  minorX: F_MINOR,
  powerLabels: F_XEXPONENTS,
  xRange: [1, 1000000],
  yRange: [-0.05, 0.25],
  xTicks: F_XTICKS,
  yTicks: F_YTICKS,
  xTitle: "Log(Time) (iterations)",
  yTitle: "Regret",
  datasets: [
    line("Linear", BLACK, points(F_T, F_LINEAR), 1),
    line("Out Sat", GREEN, points(F_T.concat(F_TAIL_T), F_OUTSAT.concat(F_OUTSAT_TAIL)), 1.2),
    line("Comp Sat", RED, points(F_T.concat(F_TAIL_T), F_COMPSAT.concat(F_COMPSAT_TAIL)), 1.2),
    line("Aleem", BLUE, points(F_T.concat(F_TAIL_T), F_ALEEM.concat(F_ALEEM_TAIL)), 1.2),
  ],
})
</script>
</body>
</html>
